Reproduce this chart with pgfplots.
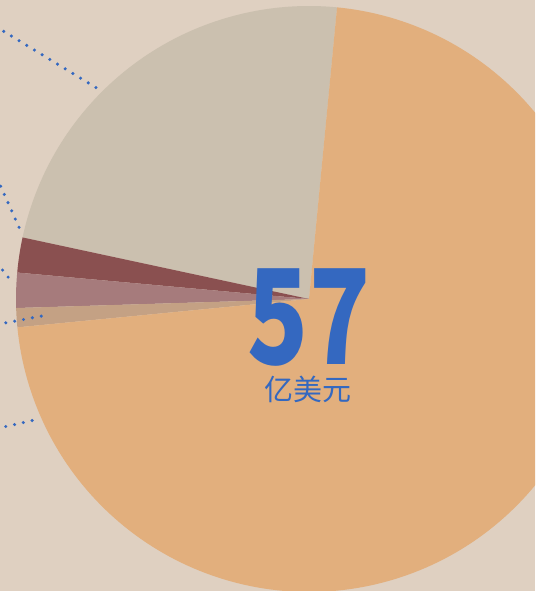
\documentclass[border=0pt]{standalone}
\usepackage{pgfplots}
\pgfplotsset{compat=1.18}
\usepackage{fontspec}
\newfontfamily\cjk{Noto Sans CJK SC}
\newfontfamily\cjknum{Noto Sans CJK SC}[FakeStretch=0.76]
\definecolor{bg}{HTML}{DFD0C1}
\definecolor{cOrange}{HTML}{E2AF7D}
\definecolor{cGray}{HTML}{CBC0AF}
\definecolor{cDark}{HTML}{8A5050}
\definecolor{cMauve}{HTML}{A67B7C}
\definecolor{cTan}{HTML}{C4A184}
\definecolor{cBlue}{HTML}{3468C0}
% slice values (in 100 million USD), counter-clockwise from the start angle
\def\vGray{13.2}
\def\vDark{1.1}
\def\vMauve{1.1}
\def\vTan{0.6}
\def\vOrange{41.0}
\pgfmathsetmacro\total{\vGray+\vDark+\vMauve+\vTan+\vOrange}
\pgfmathsetmacro\aA{84.5}
\pgfmathsetmacro\aB{\aA+\vGray/\total*360}
\pgfmathsetmacro\aC{\aB+\vDark/\total*360}
\pgfmathsetmacro\aD{\aC+\vMauve/\total*360}
\pgfmathsetmacro\aE{\aD+\vTan/\total*360}
\pgfmathsetmacro\aF{\aE+\vOrange/\total*360}
\def\cx{309}
\def\cy{292}
\def\R{293}
\begin{document}
\begin{tikzpicture}
\begin{axis}[
  scale only axis, width=535pt, height=591pt,
  xmin=0, xmax=535, ymin=0, ymax=591,
  hide axis, clip=true,
  axis background/.style={fill=bg},
  slice/.style={draw=none},
  leader/.style={draw=cBlue, line width=3.4pt, line cap=round, dash pattern=on 0pt off 9pt},
]
\addplot[slice, fill=cGray, domain=\aA:\aB, samples=80] ({\cx+\R*cos(x)},{\cy+\R*sin(x)}) -- (axis cs:\cx,\cy) -- cycle;
\addplot[slice, fill=cDark, domain=\aB:\aC, samples=10] ({\cx+\R*cos(x)},{\cy+\R*sin(x)}) -- (axis cs:\cx,\cy) -- cycle;
\addplot[slice, fill=cMauve, domain=\aC:\aD, samples=10] ({\cx+\R*cos(x)},{\cy+\R*sin(x)}) -- (axis cs:\cx,\cy) -- cycle;
\addplot[slice, fill=cTan, domain=\aD:\aE, samples=10] ({\cx+\R*cos(x)},{\cy+\R*sin(x)}) -- (axis cs:\cx,\cy) -- cycle;
\addplot[slice, fill=cOrange, domain=\aE:\aF, samples=200] ({\cx+\R*cos(x)},{\cy+\R*sin(x)}) -- (axis cs:\cx,\cy) -- cycle;
% leader lines
\addplot[leader] coordinates {(-4,564.3) (100,501)};
\addplot[leader] coordinates {(-3,413) (22,357)};
\addplot[leader] coordinates {(-3,328) (12,309)};
\addplot[leader] coordinates {(-3,266.5) (42,275)};
\addplot[leader] coordinates {(-3,162.5) (39,172)};
\node[text=cBlue, inner sep=0pt, anchor=base, text height=99pt, text depth=0pt, font=\cjknum\bfseries\fontsize{132}{136}\selectfont] at (axis cs:309,226) {57};
\node[text=cBlue, inner sep=0pt, anchor=base, text height=23pt, text depth=3pt, font=\cjk\fontsize{29}{32}\selectfont] at (axis cs:308,190) {亿美元};
\end{axis}
\end{tikzpicture}
\end{document}
